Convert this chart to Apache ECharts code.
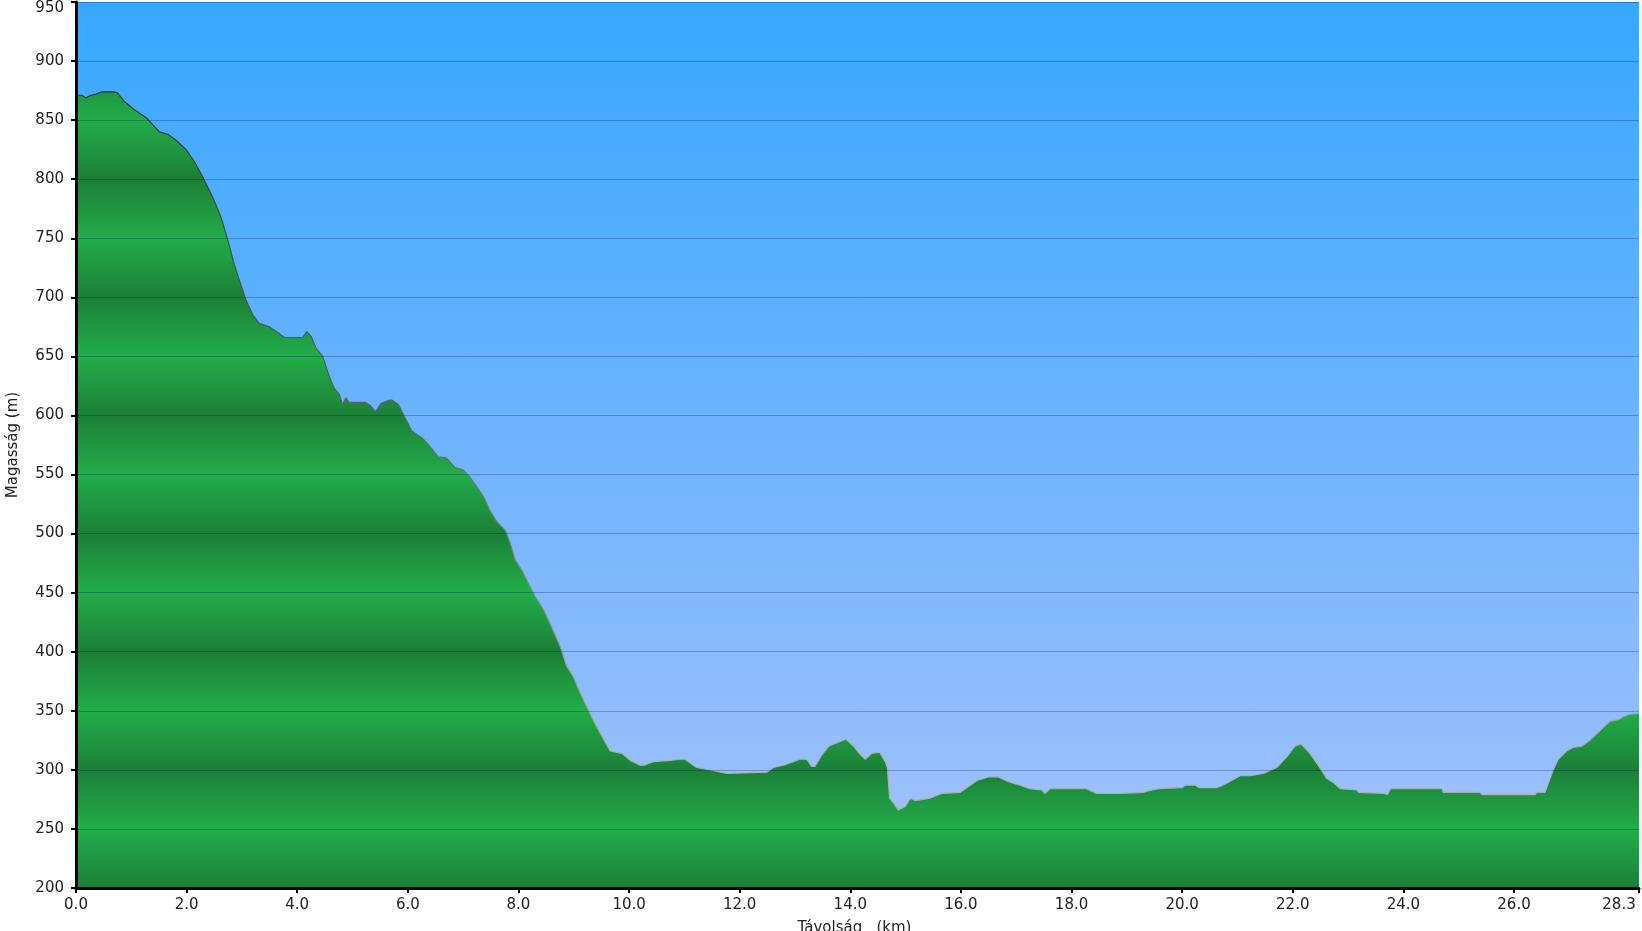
<!DOCTYPE html>
<html><head><meta charset="utf-8">
<script src="https://cdn.jsdelivr.net/npm/echarts@6/dist/echarts.min.js"></script>
<style>html,body{margin:0;padding:0;background:#fff;overflow:hidden}#c{width:1642px;height:931px}</style>
</head><body><div id="c"></div>
<script>
// Distance along route (km)
const distKm = [0.00,0.10,0.18,0.27,0.36,0.47,0.69,0.75,0.87,1.05,1.27,1.39,1.51,1.66,1.81,1.99,2.14,2.29,2.47,2.62,2.74,2.86,2.95,3.07,3.20,3.31,3.50,3.62,3.77,4.10,4.17,4.25,4.34,4.46,4.58,4.67,4.76,4.82,4.88,4.94,5.24,5.33,5.42,5.51,5.67,5.71,5.83,5.95,6.07,6.28,6.43,6.55,6.70,6.85,7.00,7.12,7.24,7.36,7.49,7.61,7.76,7.85,7.94,8.06,8.18,8.30,8.45,8.60,8.75,8.87,8.99,9.11,9.26,9.41,9.54,9.66,9.69,9.87,10.02,10.20,10.27,10.44,10.74,10.92,11.01,11.22,11.46,11.77,12.49,12.61,12.79,12.97,13.09,13.21,13.30,13.36,13.49,13.61,13.76,13.92,14.06,14.18,14.27,14.39,14.53,14.63,14.67,14.71,14.78,14.87,14.99,15.09,15.17,15.44,15.65,15.99,16.11,16.29,16.50,16.68,16.86,17.07,17.25,17.46,17.52,17.61,18.27,18.45,18.88,19.30,19.36,19.57,20.00,20.05,20.24,20.30,20.63,20.78,21.05,21.23,21.47,21.71,21.89,22.04,22.15,22.31,22.46,22.61,22.74,22.86,23.16,23.19,23.65,23.71,23.77,24.70,24.72,25.39,25.42,26.38,26.41,26.56,26.71,26.80,26.95,27.07,27.22,27.37,27.55,27.73,27.91,27.97,28.08,28.26];
// Elevation (m)
const elevM = [871,871,869,871,872,874,874,873,866,859,852,846,840,838,833,825,815,802,785,768,749,728,715,698,685,678,675,671,666,666,671,667,657,650,633,623,618,609,615,611,611,608,603,610,613,613,609,598,587,580,572,565,564,556,554,548,540,532,519,510,503,492,478,469,458,447,436,421,405,388,379,366,351,337,326,316,315,314,308,304,304,307,308,309,309,302,300,297,298,302,304,307,309,309,303,303,313,320,323,326,320,313,309,314,315,307,302,276,272,266,269,276,274,276,280,281,285,291,294,294,290,287,284,283,280,284,284,280,280,281,282,284,285,287,287,285,285,288,295,295,297,302,311,320,322,314,304,293,289,284,283,281,280,279,284,284,281,281,279,279,281,281,300,309,316,319,320,325,333,341,343,345,347,348];

const yMin = 200, yMax = 950, yStep = 50;
const xMin = 0, xMax = 28.26;
// x tick positions: every 2 km up to 26, then the route end
const xTickVals = [0, 2, 4, 6, 8, 10, 12, 14, 16, 18, 20, 22, 24, 26, 28.26];
const xTitle = 'Távolság   (km)';
const yTitle = 'Magasság (m)';

const FONT = 'DejaVu Sans';
const gridTop = 2, gridBottom = 43, gridLeft = 76, gridRight = 3;
const H = 931;
const gTop = gridTop, gBot = H - gridBottom;

// repeating green bands: dark at each 100 m, light at each 50 m offset
const stops = [];
for (let e = yMax; e >= yMin; e -= yStep) {
  const off = (yMax - e) / (yMax - yMin);
  stops.push({offset: off, color: (e % 100 === 0) ? '#1b7f37' : '#23ad4a'});
}
const areaGrad = new echarts.graphic.LinearGradient(0, gTop, 0, gBot, stops, true);
const lineGrad = new echarts.graphic.LinearGradient(0, gTop, 0, gBot, [
  {offset: 0, color: '#13293a'},
  {offset: 0.45, color: '#55626b'},
  {offset: 0.85, color: '#a8b0b2'},
  {offset: 1, color: '#a8b0b2'}
], true);

const chart = echarts.init(document.getElementById('c'), null, {renderer: 'canvas'});
chart.setOption({
  animation: false,
  grid: {
    left: gridLeft, right: gridRight, top: gridTop, bottom: gridBottom,
    outerBoundsMode: 'none', containLabel: false,
    show: true, borderWidth: 0,
    backgroundColor: new echarts.graphic.LinearGradient(0, 0, 0, 1, [
      {offset: 0, color: '#37a7ff'},
      {offset: 1, color: '#a6c2fc'}
    ])
  },
  xAxis: {
    type: 'value', min: xMin, max: xMax, z: 10,
    name: xTitle, nameLocation: 'middle', nameGap: 33,
    nameTextStyle: {fontFamily: FONT, fontSize: 15, color: '#222', padding: [0, 6, 0, 0]},
    axisLine: {show: true, onZero: false, lineStyle: {color: '#000', width: 3}},
    axisTick: {show: true, length: 5, customValues: xTickVals, lineStyle: {color: '#000', width: 2}},
    splitLine: {show: false},
    axisLabel: {
      fontFamily: FONT, fontSize: 15, color: '#222', margin: 10,
      customValues: xTickVals, hideOverlap: false,
      formatter: v => { const s = v.toFixed(1); return Math.abs(v - xMax) < 1e-9 ? '{r|' + s + '}' : s; },
      rich: {r: {fontFamily: FONT, fontSize: 15, color: '#222', padding: [0, 40, 0, 0]}}
    }
  },
  yAxis: {
    type: 'value', min: yMin, max: yMax, interval: yStep, z: 10,
    name: yTitle, nameLocation: 'middle', nameGap: 55, nameRotate: 90,
    nameTextStyle: {fontFamily: FONT, fontSize: 15, color: '#222'},
    axisLine: {show: true, lineStyle: {color: '#000', width: 3}},
    axisTick: {show: true, length: 5, lineStyle: {color: '#000', width: 2}},
    splitLine: {show: true, lineStyle: {color: 'rgba(0,20,70,0.28)', width: 1}},
    axisLabel: {
      fontFamily: FONT, fontSize: 15, color: '#222', margin: 12,
      formatter: v => v === yMax ? '{t|' + v + '}' : String(v),
      rich: {t: {fontFamily: FONT, fontSize: 15, color: '#222', padding: [12, 0, 0, 0]}}
    }
  },
  series: [{
    type: 'line',
    data: distKm.map((d, i) => [d, elevM[i]]),
    showSymbol: false, symbol: 'none',
    z: 2,
    lineStyle: {color: lineGrad, width: 1.2},
    areaStyle: {color: areaGrad, opacity: 1, origin: 'start'}
  }]
});
</script>
</body></html>
